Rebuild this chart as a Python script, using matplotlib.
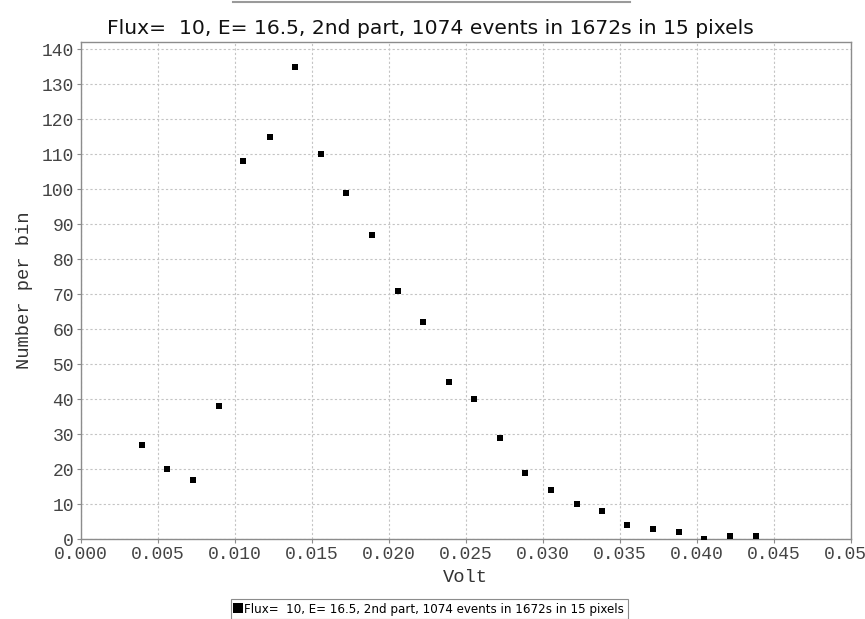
import matplotlib
matplotlib.use('Agg')
import matplotlib.pyplot as plt
from matplotlib.lines import Line2D

# ---- data ----
volt = [0.00396, 0.00559, 0.00728, 0.00895, 0.01053, 0.01225, 0.01392, 0.01561,
        0.01719, 0.01889, 0.02056, 0.02219, 0.02388, 0.02555, 0.02722, 0.02885,
        0.03052, 0.03221, 0.03382, 0.03549, 0.03716, 0.03885, 0.04046, 0.04213,
        0.04382]
counts = [27, 20, 17, 38, 108, 115, 135, 110, 99, 87, 71, 62, 45, 40, 29, 19,
          14, 10, 8, 4, 3, 2, 0, 1, 1]
x_ticks = [0.000, 0.005, 0.010, 0.015, 0.020, 0.025, 0.030, 0.035, 0.040, 0.045, 0.050]
y_ticks = [0, 10, 20, 30, 40, 50, 60, 70, 80, 90, 100, 110, 120, 130, 140]
title = "Flux=  10, E= 16.5, 2nd part, 1074 events in 1672s in 15 pixels"
x_label = "Volt"
y_label = "Number per bin"

W, H = 865, 619
fig = plt.figure(figsize=(W / 100, H / 100), dpi=100)
fig.patch.set_facecolor('white')

left, right, top, bottom = 81, 850.7, 41.7, 539
ax = fig.add_axes([left / W, (H - bottom) / H, (right - left) / W, (bottom - top) / H])
ax.set_facecolor('white')

line, = ax.plot(volt, counts, linestyle='none', marker='s', markersize=4.3,
                color='black', markeredgewidth=0, label=title, zorder=3)

ax.set_xlim(0, 0.05)
ax.set_ylim(0, 142.1)
ax.set_xticks(x_ticks)
ax.set_xticklabels([f"{t:.3f}" for t in x_ticks])
ax.set_yticks(y_ticks)
ax.set_yticklabels([str(t) for t in y_ticks])

ax.grid(True, color='#c4c4c4', linestyle=(0, (2, 2)), linewidth=0.8, zorder=0)
ax.set_axisbelow(True)
for s in ax.spines.values():
    s.set_color('#8c8c8c')
    s.set_linewidth(1.0)

mono = 'Liberation Mono'
ax.tick_params(direction='out', length=3, width=0.8, color='#8c8c8c',
               labelcolor='#444444', labelsize=13, pad=2)
for lab in ax.get_xticklabels() + ax.get_yticklabels():
    lab.set_fontfamily(mono)

ax.set_xlabel(x_label, fontfamily=mono, fontsize=13.5, color='#333333', labelpad=4)
ax.set_ylabel(y_label, fontfamily=mono, fontsize=13.5, color='#333333', labelpad=6)

fig.text(0.4975, 1 - 29 / H, title, ha='center', va='center',
         fontfamily='DejaVu Sans', fontsize=14.6, color='#111111')

# legend
leg = fig.legend(handles=[line], labels=[title], loc='center',
                 bbox_to_anchor=(429.5 / W, 1 - 609 / H), frameon=True,
                 fancybox=False, edgecolor='#8c8c8c', framealpha=1,
                 handlelength=0.6, handletextpad=0.2, borderpad=0.3,
                 markerscale=1.8,
                 prop={'family': 'DejaVu Sans', 'size': 8.6})
leg.get_frame().set_linewidth(0.8)

# thin grey bar at the very top of the image
fig.add_artist(Line2D([233 / W, 630 / W], [1 - 1.5 / H, 1 - 1.5 / H],
                      transform=fig.transFigure, color='#9a9a9a', linewidth=1.5))

fig.savefig('out.png', dpi=100)
